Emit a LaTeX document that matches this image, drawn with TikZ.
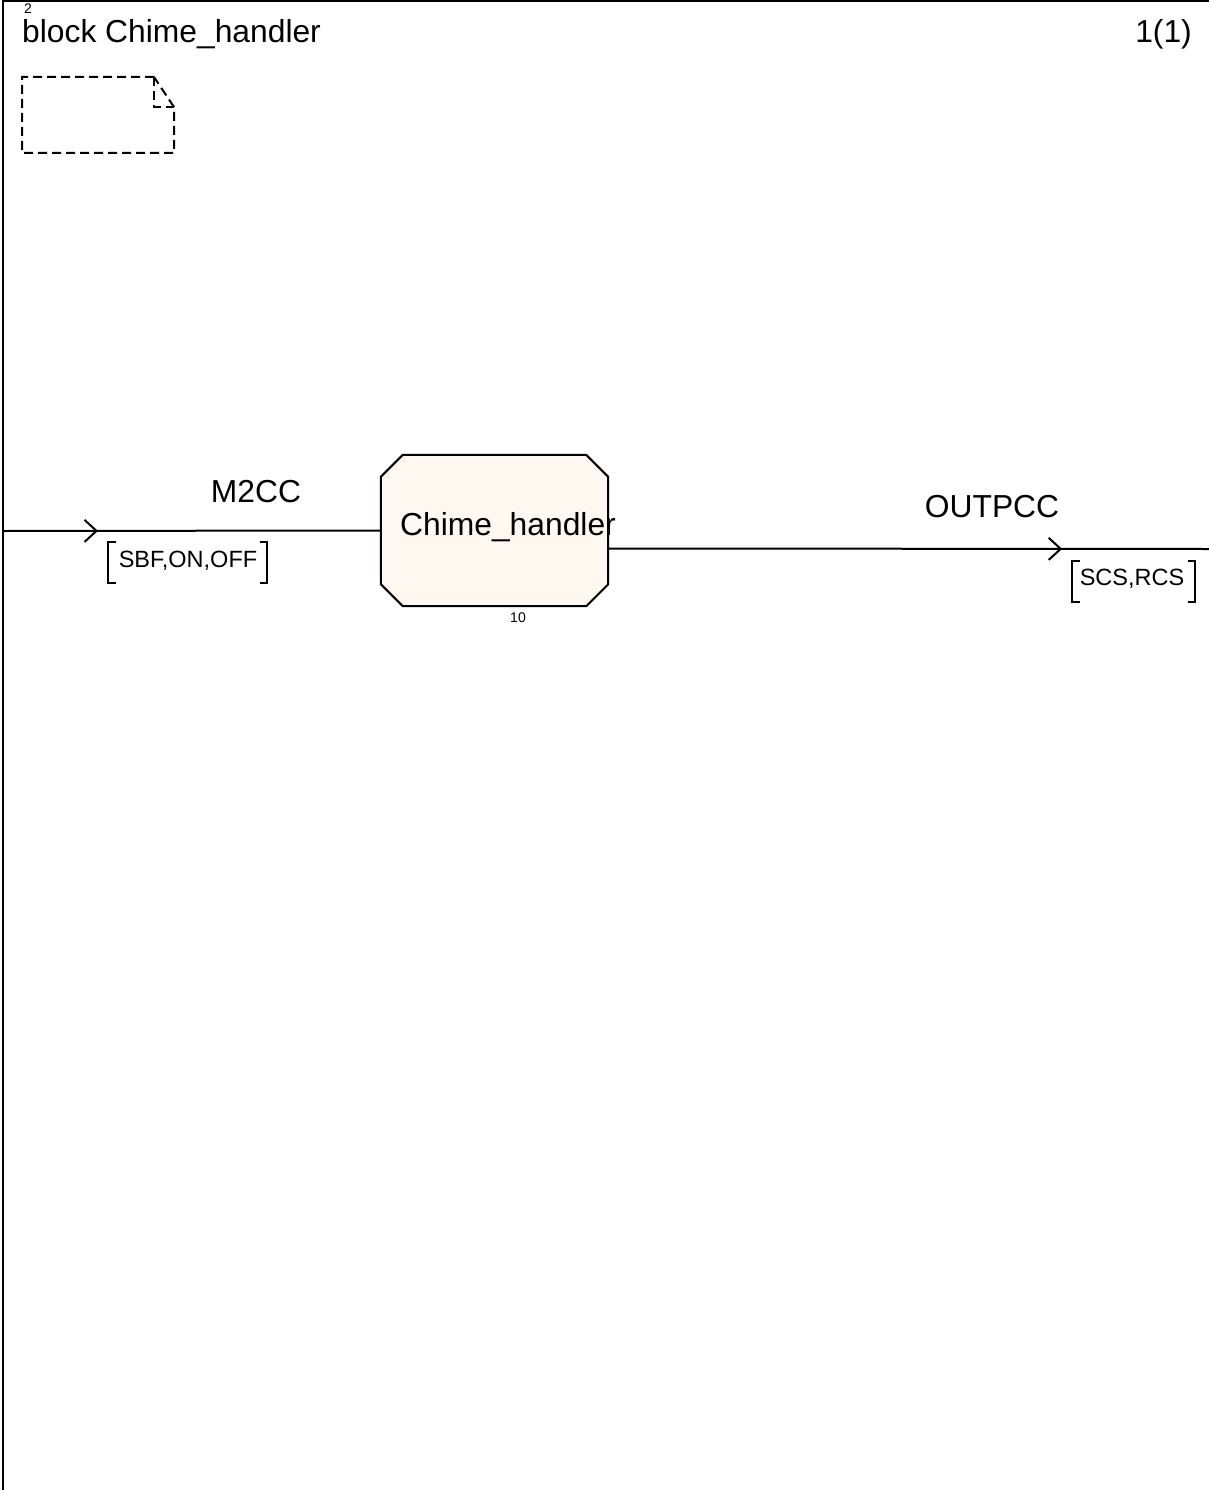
\documentclass[tikz,border=0pt]{standalone}
\usepackage{fontspec}
\setmainfont{Liberation Sans}
\usetikzlibrary{arrows.meta,decorations.markings,calc}
\definecolor{blockfill}{HTML}{FFF8F1}
\tikzset{
  big/.style={font=\fontsize{31.8}{37}\selectfont, inner sep=0pt, anchor=base},
  sig/.style={font=\fontsize{23.5}{28}\selectfont, inner sep=0pt, anchor=base},
  tiny/.style={font=\fontsize{14}{16}\selectfont, inner sep=0pt, anchor=base},
  chan/.style={line width=2pt},
  brk/.style={line width=1.8pt},
  notebox/.style={line width=2pt, dash pattern=on 9pt off 5pt},
}
\begin{document}
\begin{tikzpicture}[x=1pt,y=1pt]
\useasboundingbox (0,0) rectangle (1209,-1490);
% frame
\draw[line width=2.6pt] (3,-1490) -- (3,-1) -- (1209,-1);
% header
\node[big, anchor=base west] (title) at (22,-43) {block Chime\_handler};
\node[tiny] (num2) at (28,-14) {2};
\node[big, anchor=base east] (page) at (1192,-43) {1(1)};
% note symbol
\draw[notebox] (154,-77) -- (22,-77) -- (22,-153) -- (174,-153) -- (174,-107) -- (154,-77);
\draw[notebox] (154,-77) -- (154,-107) -- (174,-107);
% block
\node[minimum width=227pt, minimum height=151pt, inner sep=0pt] (blk) at (494.5,-530.5) {};
\draw[line width=2pt, fill=blockfill]
  ([xshift=22pt]blk.north west) -- ([xshift=-22pt]blk.north east)
  -- ([yshift=-22pt]blk.north east) -- ([yshift=22pt]blk.south east)
  -- ([xshift=-22pt]blk.south east) -- ([xshift=22pt]blk.south west)
  -- ([yshift=22pt]blk.south west) -- ([yshift=-22pt]blk.north west) -- cycle;
\node[big] (blkname) at (508,-535) {Chime\_handler};
\node[tiny] (blknum) at (518,-622) {10};
% channels
\coordinate (inend) at (3,-531);
\coordinate (outend) at (1209,-549);
\draw[chan, decoration={markings, mark=at position 95pt with {\arrow{Straight Barb[length=12pt,width=22pt,line width=2pt]}}}, postaction=decorate]
  (inend) -- (blk.west);
\draw[chan, decoration={markings, mark=at position 454pt with {\arrow{Straight Barb[length=12pt,width=22pt,line width=2pt]}}}, postaction=decorate]
  ([yshift=-18pt]blk.east) -- (outend);
% channel labels
\node[big] (m2cc) at (256,-502) {M2CC};
\node[big] (outpcc) at (992,-517) {OUTPCC};
\node[sig] (insig) at (188,-567) {SBF,ON,OFF};
\draw[brk] (116,-542) -- (108,-542) -- (108,-583) -- (116,-583);
\draw[brk] (260,-542) -- (267,-542) -- (267,-583) -- (260,-583);
\node[sig] (outsig) at (1132,-585) {SCS,RCS};
\draw[brk] (1080,-561) -- (1072,-561) -- (1072,-602) -- (1080,-602);
\draw[brk] (1188,-561) -- (1195,-561) -- (1195,-602) -- (1188,-602);
\end{tikzpicture}
\end{document}
